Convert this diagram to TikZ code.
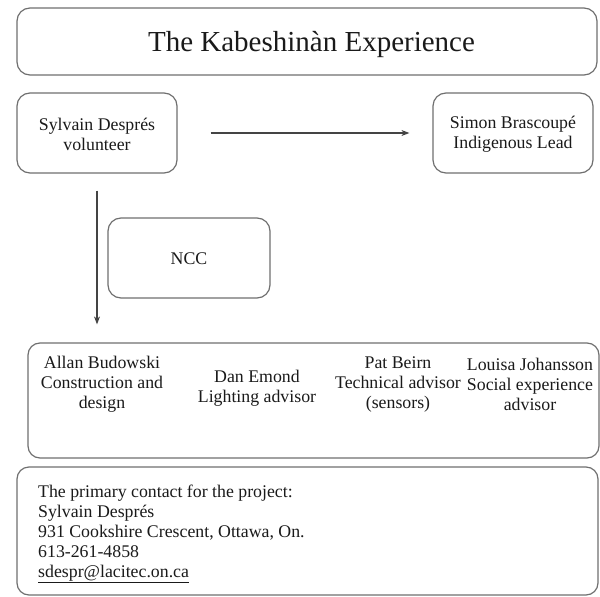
\documentclass[tikz,border=0pt]{standalone}
\usepackage{fontspec}
\setmainfont{Liberation Serif}
\usetikzlibrary{arrows.meta}
\definecolor{boxline}{HTML}{707070}
\definecolor{ink}{HTML}{1A1A1A}
\definecolor{arrowc}{HTML}{444444}
\begin{document}
\begin{tikzpicture}[x=1pt,y=-1pt,
  box/.style={draw=boxline,line width=1.2pt,rounded corners=13pt,inner sep=0pt},
  txt/.style={text=ink,font=\fontsize{17.8}{20}\selectfont,align=center,inner sep=0pt},
  link/.style={draw=arrowc,line width=1.1pt,-{Stealth[length=8pt,width=6pt]}}]
\useasboundingbox (0,0) rectangle (600,597);
\fill[white] (0,0) rectangle (600,597);

% title banner
\node[box,minimum width=580pt,minimum height=67pt] (title) at (307,41.5) {};
\node[text=ink,font=\fontsize{29}{32}\selectfont,inner sep=0pt] (titletext) at (311.5,45) {The Kabeshinàn Experience};

% people at the top
\node[box,minimum width=160pt,minimum height=80pt] (sylvain) at (97,133) {};
\node[txt] (sylvaintext) at (97,134) {Sylvain Després\\volunteer};
\node[box,minimum width=160pt,minimum height=80pt] (simon) at (513,133) {};
\node[txt] (simontext) at (513,134) {Simon Brascoupé\\Indigenous Lead};

% NCC
\node[box,minimum width=162pt,minimum height=80pt] (ncc) at (189,258) {};
\node[txt] (ncctext) at (189,259) {NCC};

% advisors
\node[box,rounded corners=12pt,minimum width=571pt,minimum height=115pt] (advisors) at (313.5,400.5) {};
\node[txt] (allan) at (102,384) {Allan Budowski\\Construction and\\design};
\node[txt] (dan) at (257,388) {Dan Emond\\Lighting advisor};
\node[txt] (pat) at (398,384) {Pat Beirn\\Technical advisor\\(sensors)};
\node[txt] (louisa) at (530,384) {Louisa Johansson\\Social experience\\advisor};

% contact
\node[box,rounded corners=12pt,minimum width=581pt,minimum height=128pt] (contact) at (307.5,531) {};
\node[txt,align=left,anchor=west] (contacttext) at (38,534)
  {The primary contact for the project:\\Sylvain Després\\931 Cookshire Crescent, Ottawa, On.\\613-261-4858\\\underline{sdespr@lacitec.on.ca}};

% connectors
\draw[link,shorten <=33pt,shorten >=23pt] (sylvain.east) -- (simon.west |- sylvain.east);
\draw[link,shorten <=17pt,shorten >=18pt] (sylvain.south) -- (sylvain.south |- advisors.north);
\end{tikzpicture}
\end{document}
